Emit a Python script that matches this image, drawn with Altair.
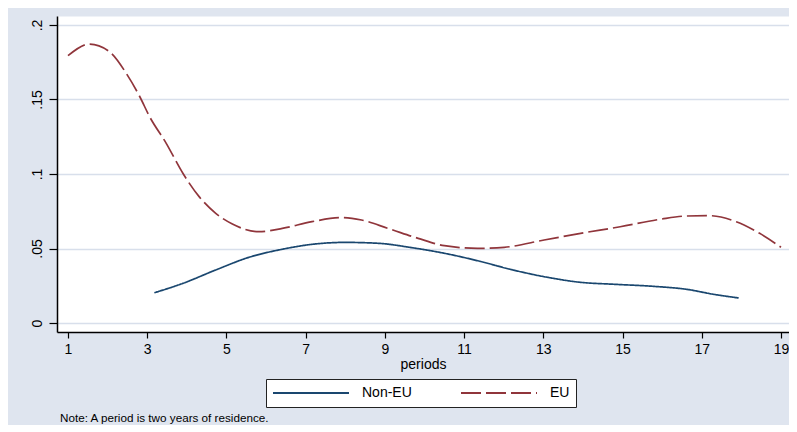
import altair as alt
import pandas as pd

# values
eu_period = [1.0, 1.55, 2.05, 2.47, 2.81, 3.06, 3.48, 3.9, 4.31, 4.73, 5.15, 5.82,
             6.41, 7.16, 7.91, 8.41, 9.08, 9.84, 10.5, 11.34, 12.01, 13.02, 13.94,
             14.94, 15.95, 16.62, 17.2, 17.87, 18.46, 19.0]
eu_value = [0.1794, 0.1872, 0.182, 0.1676, 0.152, 0.1385, 0.1206, 0.1005, 0.0848,
            0.0736, 0.0664, 0.0613, 0.0635, 0.068, 0.0707, 0.0691, 0.0635, 0.0568,
            0.0519, 0.0501, 0.0508, 0.0557, 0.0602, 0.0646, 0.0696, 0.0718, 0.072,
            0.068, 0.0602, 0.0508]

non_eu_period = [3.18, 3.9, 4.73, 5.57, 6.41, 7.16, 8.0, 8.83, 9.67, 10.5, 11.4,
                 12.2, 13.1, 13.94, 14.78, 15.78, 16.62, 17.29, 17.93]
non_eu_value = [0.0203, 0.0266, 0.0356, 0.0441, 0.0495, 0.0528, 0.0541, 0.0535,
                0.0506, 0.0468, 0.0414, 0.0358, 0.0307, 0.0273, 0.026, 0.0246,
                0.0226, 0.0193, 0.0168]

series_order = ["Non-EU", "EU"]
series_colors = ["#1A476F", "#90353B"]
series_dash = [[1, 0], [20, 5]]

x_ticks = [1, 3, 5, 7, 9, 11, 13, 15, 17, 19]
y_ticks = [0, 0.05, 0.1, 0.15, 0.2]
y_tick_labels = ["0", ".05", ".1", ".15", ".2"]

note = "Note: A period is two years of residence."

rows = []
for p, v in zip(non_eu_period, non_eu_value):
    rows.append({"period": p, "value": v, "series": "Non-EU"})
for p, v in zip(eu_period, eu_value):
    rows.append({"period": p, "value": v, "series": "EU"})
df = pd.DataFrame(rows)

y_label_expr = " : ".join(
    f"datum.value == {t} ? '{lab}'" for t, lab in zip(y_ticks, y_tick_labels)
) + " : ''"

FONT = "Liberation Sans"
BG = "#DFE5EF"

legend = alt.Legend(
    title=None,
    orient="none",
    legendX=209,
    legendY=363,
    direction="horizontal",
    symbolType="stroke",
    symbolSize=5776,
    symbolStrokeWidth=1.8,
    clipHeight=16,
    padding=6,
    strokeColor="#222222",
    fillColor="white",
    labelFont=FONT,
    labelFontSize=14,
    labelColor="black",
    labelOffset=12,
    columnPadding=48,
)

chart = (
    alt.Chart(df)
    .mark_line(interpolate="monotone", strokeWidth=1.7)
    .encode(
        x=alt.X(
            "period:Q",
            title="periods",
            scale=alt.Scale(domain=[0.7223, 19.202], nice=False, zero=False),
            axis=alt.Axis(
                values=x_ticks,
                grid=False,
                tickSize=6,
                labelPadding=4,
                titlePadding=1,
                labelFlush=False,
            ),
        ),
        y=alt.Y(
            "value:Q",
            title=None,
            scale=alt.Scale(domain=[-0.00604, 0.20604], nice=False),
            axis=alt.Axis(
                values=y_ticks,
                labelExpr=y_label_expr,
                grid=True,
                gridColor="#D8DFEB",
                gridWidth=1.5,
                tickSize=8,
                labelAngle=270,
                labelAlign="center",
                labelBaseline="bottom",
                labelPadding=5,
            ),
        ),
        color=alt.Color(
            "series:N",
            scale=alt.Scale(domain=series_order, range=series_colors),
            legend=legend,
        ),
        strokeDash=alt.StrokeDash(
            "series:N",
            scale=alt.Scale(domain=series_order, range=series_dash),
            legend=legend,
        ),
    )
    .properties(
        width=732,
        height=316,
        background=BG,
        padding={"left": 21, "top": 8, "right": 0, "bottom": 0},
        title=alt.TitleParams(
            note,
            orient="bottom",
            anchor="start",
            frame="group",
            dx=3,
            offset=5,
            font=FONT,
            fontSize=11.7,
            fontWeight="normal",
            color="black",
        ),
    )
    .configure_view(fill="white", stroke="transparent")
    .configure_axis(
        labelFont=FONT,
        labelFontSize=14,
        labelColor="black",
        titleFont=FONT,
        titleFontSize=14,
        titleFontWeight="normal",
        titleColor="black",
        domainColor="black",
        domainWidth=1.5,
        tickColor="black",
        tickWidth=1.2,
    )
)

chart.save("out.html", embed_options={"renderer": "svg", "actions": False})
